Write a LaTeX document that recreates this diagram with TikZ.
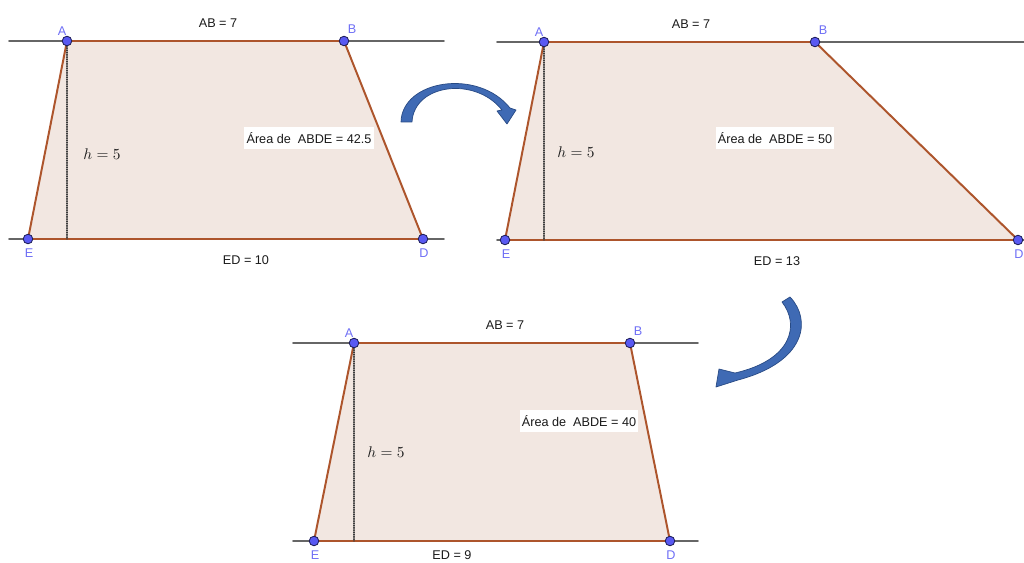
\documentclass[tikz,border=0pt]{standalone}
\usepackage[no-math]{fontspec}
\setmainfont{Liberation Sans}
\usetikzlibrary{calc}
\definecolor{guide}{HTML}{666666}
\definecolor{edge}{HTML}{AD552C}
\definecolor{areafill}{HTML}{F2E7E1}
\definecolor{ptfill}{HTML}{5959F2}
\definecolor{ptedge}{HTML}{1E1E5A}
\definecolor{ptname}{HTML}{6E6EF5}
\definecolor{arrowblue}{HTML}{3F6AB4}
\definecolor{arrowedge}{HTML}{284A84}
\definecolor{ink}{HTML}{1A1A1A}
\tikzset{
  guideline/.style={guide, line width=1.3pt},
  side/.style={edge, line width=1.4pt},
  height/.style={ink!85, line width=0.8pt, dash pattern=on 0.6pt off 1pt},
  ptname/.style={text=ptname, font=\fontsize{9}{11}\selectfont},
  areabox/.style={fill=white, text=ink, inner xsep=1.5pt, minimum height=16pt},
  bluearrow/.style={fill=arrowblue, draw=arrowedge, line width=0.5pt, line join=round}
}

\begin{document}
\begin{tikzpicture}[x=0.025cm, y=-0.025cm, line cap=round, font=\fontsize{9}{11}\selectfont]
  \useasboundingbox (0,0) rectangle (1024,563);
  % three trapezoids
  \foreach \n/\yt/\yb/\xl/\xr/\xa/\xb/\xe/\xd/\xab/\xed/\edy/\ed/\xh/\yh/\xs/\ys/\s in
    {1/41/239/9/444/67/344/28/423/218/246/21/10/102/154/309/138/42.5,
     2/42/240/497/1030/544/815/505/1018/691/777/21/13/576/152/775/138/50,
     3/343/541/293/698/354/630/314/670/505/452/14/9/386/452/579/421/40}
    {\coordinate (A\n) at (\xa,\yt); \coordinate (B\n) at (\xb,\yt);
     \coordinate (D\n) at (\xd,\yb); \coordinate (E\n) at (\xe,\yb);
     \coordinate (H\n) at (\xa,\yb);
     \coordinate (lt\n) at (\xl,\yt); \coordinate (rt\n) at (\xr,\yt);
     \coordinate (lb\n) at (\xl,\yb); \coordinate (rb\n) at (\xr,\yb);
     \fill[areafill] (A\n) -- (B\n) -- (D\n) -- (E\n) -- cycle;
     \draw[guideline] (lt\n) -- (rt\n) (lb\n) -- (rb\n);
     \draw[side] (A\n) -- (B\n) -- (D\n) -- (E\n) -- cycle;
     \draw[height] (A\n) -- (H\n);
     \foreach \p in {A\n,B\n,D\n,E\n} {\fill[ptfill, draw=ptedge, line width=0.6pt] (\p) circle (3.4pt);}
     \node[ptname] (nA\n) at (\xa-5,\yt-10) {A};
     \node[ptname] (nB\n) at (\xb+8,\yt-12) {B};
     \node[ptname] (nE\n) at (\xe+1,\yb+14) {E};
     \node[ptname] (nD\n) at (\xd+1,\yb+14) {D};
     \node[text=ink] (ab\n) at (\xab,\yt-18) {AB = 7};
     \node[text=ink] (ed\n) at (\xed,\yb+\edy) {ED = \ed};
     \node[text=ink, font=\fontsize{10.8}{13}\selectfont] (h\n) at (\xh,\yh) {$h=5$};
     \node[areabox] (ar\n) at (\xs,\ys) {Área de\ \ ABDE = \s};}
  % curved arrows between the panels
  \draw[bluearrow] (401,122) .. controls (402,80) and (478,68) .. (510,108) -- (516,110) -- (507,124)
    -- (497,111) -- (502,110) .. controls (475,76) and (414,84) .. (412,122) -- cycle;
  \draw[bluearrow] (790,297) .. controls (812,320) and (806,362) .. (738,380) -- (716,387) -- (719,369)
    -- (735,373) .. controls (792,360) and (800,325) .. (782,302) -- cycle;
\end{tikzpicture}
\end{document}
